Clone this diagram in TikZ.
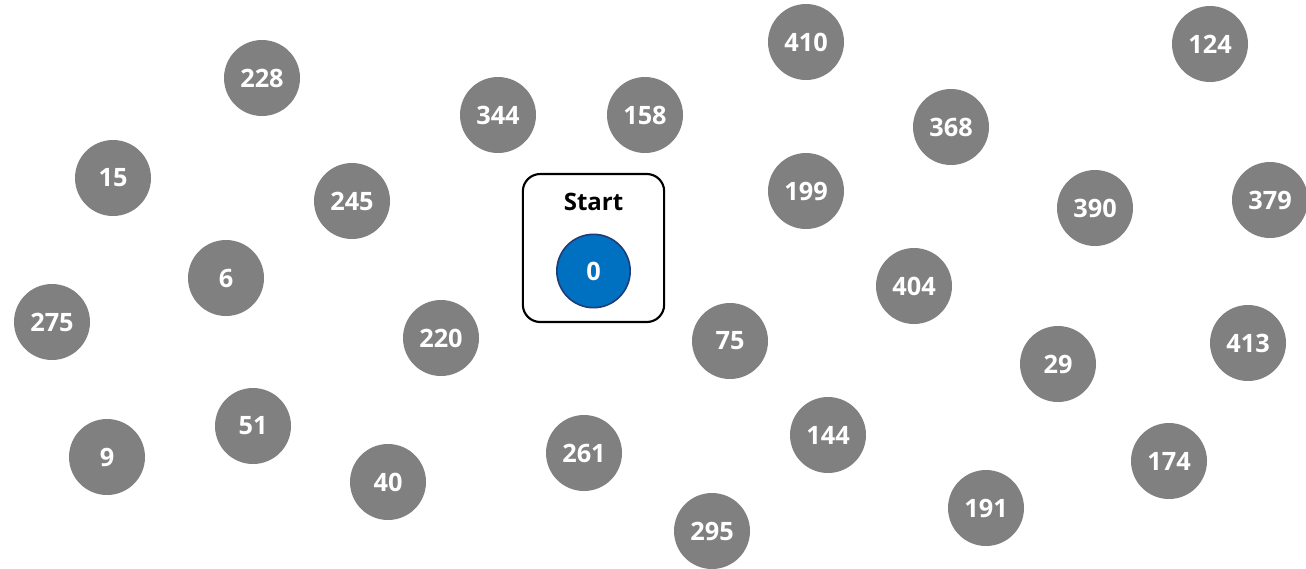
\documentclass[tikz,border=0pt]{standalone}
\usepackage{fontspec}
\setmainfont{Open Sans}
\usepackage{tikz}
\usepackage{xcolor}
\usetikzlibrary{positioning}
\definecolor{stone}{HTML}{808080}
\definecolor{seed}{HTML}{0070C0}
\definecolor{seedrim}{HTML}{1F3C78}
\tikzset{
  % A gray vertex, waiting to be visited
  vertex/.style={
    circle, fill=stone, draw=none, text=white, minimum size=57pt,
    inner sep=0pt, font=\fontsize{19}{22}\selectfont\bfseries},
  % The starting vertex
  seedvertex/.style={
    circle, fill=seed, draw=seedrim, line width=1.2pt, text=white,
    minimum size=55pt, inner sep=0pt, font=\fontsize{19}{22}\selectfont\bfseries},
  % The frame round the start
  startbox/.style={
    draw=black, line width=1.6pt, fill=white, rounded corners=13pt,
    minimum width=106pt, minimum height=111pt, inner sep=0pt},
  lbl/.style={font=\fontsize{18}{22}\selectfont\bfseries, inner sep=0pt},
}

\begin{document}
\begin{tikzpicture}[x=0.75pt, y=-0.75pt]
  \useasboundingbox (0,0) rectangle (1306,568);

  % start frame and its vertex
  \node[startbox] (frame) at (593.5,248) {};
  \node[lbl] (startlbl) at (593.5,202) {Start};
  \node[seedvertex] (v0) at (593.5,271) {0};

  % the other vertices
  \foreach \name/\x/\y in {
      410/806/42, 124/1210/44, 228/262/78, 344/498/115, 158/645/115,
      368/951/127, 15/113/178, 245/352/201, 199/806/191, 390/1095/208,
      379/1270/200, 6/226/278, 404/914/286, 275/52/322, 220/441/338,
      75/730/341, 29/1058/364, 413/1248/343, 51/253/426, 9/107/457,
      40/388/482, 261/584/453, 144/828/435, 174/1169/461, 191/986/508,
      295/712/531}
    \node[vertex] (v\name) at (\x,\y) {\name};

\end{tikzpicture}
\end{document}
